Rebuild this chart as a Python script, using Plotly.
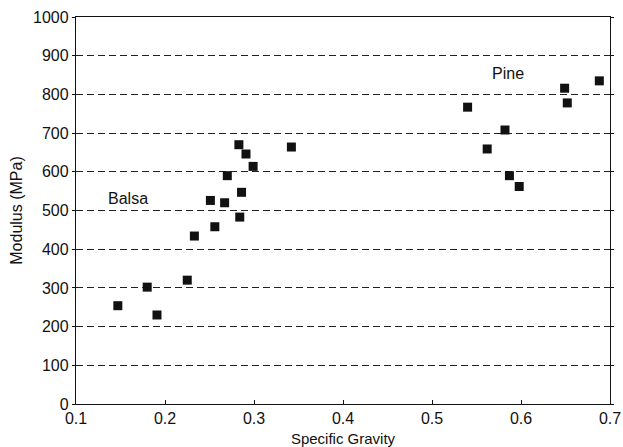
import plotly.graph_objects as go

# Balsa specimens: specific gravity vs. modulus (MPa)
balsa_sg = [0.147, 0.180, 0.191, 0.225, 0.233, 0.251, 0.256, 0.267, 0.270,
            0.283, 0.284, 0.286, 0.291, 0.299, 0.342]
balsa_mod = [254, 302, 230, 320, 434, 526, 458, 520, 590,
             670, 483, 547, 646, 614, 664]

# Pine specimens
pine_sg = [0.540, 0.562, 0.582, 0.587, 0.598, 0.649, 0.652, 0.688]
pine_mod = [767, 659, 708, 590, 562, 816, 778, 835]

# Group labels placed in data coordinates
label_text = ["Balsa", "Pine"]
label_x = [0.158, 0.585]
label_y = [530, 855]

x_ticks = [0.1, 0.2, 0.3, 0.4, 0.5, 0.6, 0.7]
y_ticks = [0, 100, 200, 300, 400, 500, 600, 700, 800, 900, 1000]

FONT = "Liberation Sans, Arial, Helvetica, sans-serif"
INK = "#111111"

fig = go.Figure()

marker = dict(symbol="square", size=9, color=INK, line=dict(width=0))
fig.add_trace(go.Scatter(x=balsa_sg, y=balsa_mod, mode="markers",
                         marker=marker, name="Balsa", showlegend=False))
fig.add_trace(go.Scatter(x=pine_sg, y=pine_mod, mode="markers",
                         marker=marker, name="Pine", showlegend=False))

for t, x, y in zip(label_text, label_x, label_y):
    fig.add_annotation(x=x, y=y, text=t, showarrow=False,
                       font=dict(family=FONT, size=16, color=INK))

fig.update_layout(
    width=623, height=447,
    margin=dict(l=76, r=13, t=17, b=43),
    paper_bgcolor="white", plot_bgcolor="white",
    font=dict(family=FONT, size=16, color=INK),
    xaxis=dict(
        range=[0.1, 0.7], tickvals=x_ticks, tickformat=".1f",
        showgrid=False, zeroline=False, automargin=False,
        showline=True, linecolor=INK, linewidth=1.3, mirror=True,
        ticks="inside", ticklen=4, tickcolor=INK,
        title=dict(text="Specific Gravity", standoff=9,
                   font=dict(family=FONT, size=15)),
        tickfont=dict(family=FONT, size=16),
    ),
    yaxis=dict(
        range=[0, 1000], tickvals=y_ticks,
        showgrid=True, gridcolor="#222222", gridwidth=1.1, griddash="7px,4px",
        zeroline=False, automargin=False,
        showline=True, linecolor=INK, linewidth=1.3, mirror="ticks",
        ticks="outside", ticklen=3, tickcolor=INK,
        title=dict(text="Modulus (MPa)", standoff=6,
                   font=dict(family=FONT, size=16)),
        tickfont=dict(family=FONT, size=16),
    ),
)

fig.write_html("out.html")
